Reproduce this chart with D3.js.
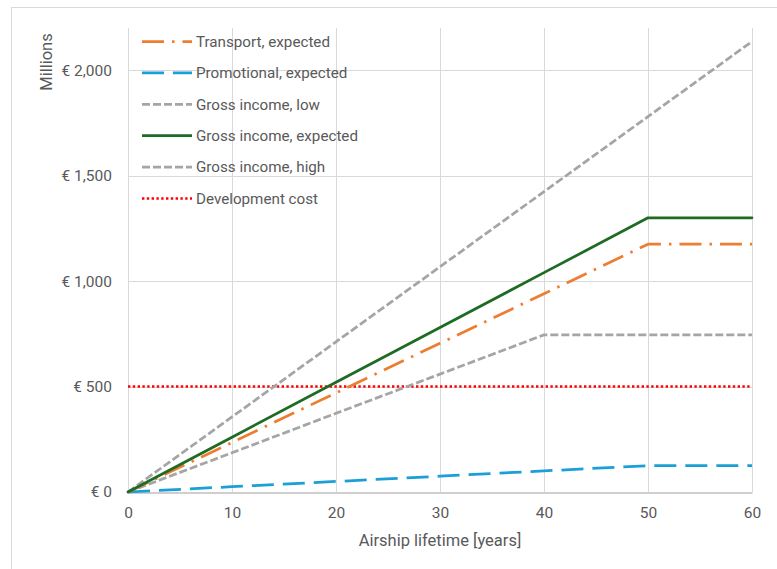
<!DOCTYPE html>
<html>
<head>
<meta charset="utf-8">
<script src="https://cdn.jsdelivr.net/npm/d3@7"></script>
<style>
  html, body { margin: 0; padding: 0; background: #ffffff; }
  svg { display: block; }
  text { font-family: Roboto, "Noto Sans", sans-serif; fill: #595959; }
</style>
</head>
<body>
<svg id="chart" width="777" height="569"></svg>
<script>
// Cumulative income over the airship lifetime, in millions of euro
const years = [0, 10, 20, 30, 40, 50, 60];
const transportExpected   = [0, 235, 470, 705, 940, 1175, 1175];
const promotionalExpected = [0, 25, 50, 75, 100, 125, 125];
const grossIncomeLow      = [0, 186, 373, 559, 745, 745, 745];
const grossIncomeExpected = [0, 260, 520, 780, 1040, 1300, 1300];
const grossIncomeHigh     = [0, 356, 712, 1068, 1424, 1780, 2136];
const developmentCost     = [500, 500, 500, 500, 500, 500, 500];

const xTicks = [0, 10, 20, 30, 40, 50, 60];
const yTicks = [0, 500, 1000, 1500, 2000];

const seriesNames = [
  "Transport, expected",
  "Promotional, expected",
  "Gross income, low",
  "Gross income, expected",
  "Gross income, high",
  "Development cost"
];
const seriesValues = [
  transportExpected, promotionalExpected, grossIncomeLow,
  grossIncomeExpected, grossIncomeHigh, developmentCost
];
const seriesStyles = [
  { color: "#ed7d31", width: 2.75, dash: "22,8,2.5,8", cap: "butt" },
  { color: "#1b9fd8", width: 2.75, dash: "22,9", cap: "butt" },
  { color: "#a5a5a5", width: 2.75, dash: "8,3", cap: "butt" },
  { color: "#1e6b24", width: 2.75, dash: null, cap: "round" },
  { color: "#a5a5a5", width: 2.75, dash: "8,3", cap: "butt" },
  { color: "#ff0000", width: 2.5, dash: "2.4,2.4", cap: "butt" }
];
// Drawing order (later on top)
const drawOrder = [5, 4, 2, 1, 0, 3];

const svg = d3.select("#chart");

// Outer chart frame
svg.append("rect")
  .attr("x", 11.5).attr("y", 7.5)
  .attr("width", 800).attr("height", 600)
  .attr("fill", "none").attr("stroke", "#d9d9d9").attr("stroke-width", 1);

const plot = { left: 128, right: 752, top: 28, bottom: 492 };

const x = d3.scaleLinear().domain([0, 60]).range([plot.left, plot.right]);
const y = d3.scaleLinear().domain([0, 2200]).range([plot.bottom, plot.top]);

// Gridlines
const grid = svg.append("g");
grid.selectAll("line.v").data(xTicks).join("line")
  .attr("x1", d => Math.round(x(d)) + 0.5).attr("x2", d => Math.round(x(d)) + 0.5)
  .attr("y1", plot.top).attr("y2", plot.bottom)
  .attr("stroke", "#d9d9d9").attr("stroke-width", 1);
grid.selectAll("line.h").data(yTicks.filter(d => d > 0)).join("line")
  .attr("x1", plot.left).attr("x2", plot.right)
  .attr("y1", d => Math.round(y(d)) + 0.5).attr("y2", d => Math.round(y(d)) + 0.5)
  .attr("stroke", "#d9d9d9").attr("stroke-width", 1);

// Axes
const xAxis = svg.append("g")
  .attr("transform", `translate(0,${plot.bottom + 0.5})`)
  .call(d3.axisBottom(x).tickValues(xTicks).tickSize(0).tickPadding(14).tickFormat(d3.format("d")));
xAxis.select(".domain").attr("stroke", "#bfbfbf").attr("stroke-width", 1.5);
xAxis.selectAll("text").style("font-size", "15.5px").attr("fill", "#595959");

const yAxis = svg.append("g")
  .attr("transform", `translate(${plot.left},0)`)
  .call(d3.axisLeft(y).tickValues(yTicks).tickSize(0).tickPadding(16)
    .tickFormat(d => "€ " + d3.format(",")(d)));
yAxis.select(".domain").remove();
yAxis.selectAll("text").style("font-size", "15.5px").attr("fill", "#595959");

// Axis titles
svg.append("text")
  .attr("transform", "translate(51.5,62) rotate(-90)")
  .attr("text-anchor", "middle")
  .style("font-size", "16.5px")
  .text("Millions");

svg.append("text")
  .attr("x", (plot.left + plot.right) / 2).attr("y", 546)
  .attr("text-anchor", "middle")
  .style("font-size", "16.5px")
  .text("Airship lifetime [years]");

// Series lines
const line = d3.line()
  .x((d, i) => x(years[i]))
  .y(d => y(d));

const lines = svg.append("g");
drawOrder.forEach(k => {
  const s = seriesStyles[k];
  lines.append("path")
    .datum(seriesValues[k])
    .attr("d", line)
    .attr("fill", "none")
    .attr("stroke", s.color)
    .attr("stroke-width", s.width)
    .attr("stroke-dasharray", s.dash)
    .attr("stroke-linecap", s.cap)
    .attr("stroke-linejoin", "round");
});

// Legend
const legend = svg.append("g");
const legendTop = 41.5, legendStep = 31.4;
seriesNames.forEach((name, k) => {
  const s = seriesStyles[k];
  const ly = legendTop + k * legendStep;
  legend.append("line")
    .attr("x1", 142).attr("x2", 192)
    .attr("y1", ly).attr("y2", ly)
    .attr("stroke", s.color)
    .attr("stroke-width", s.width)
    .attr("stroke-dasharray", s.dash)
    .attr("stroke-linecap", "butt");
  legend.append("text")
    .attr("x", 196).attr("y", ly)
    .attr("dy", "0.35em")
    .style("font-size", "15.2px")
    .text(name);
});
</script>
</body>
</html>
